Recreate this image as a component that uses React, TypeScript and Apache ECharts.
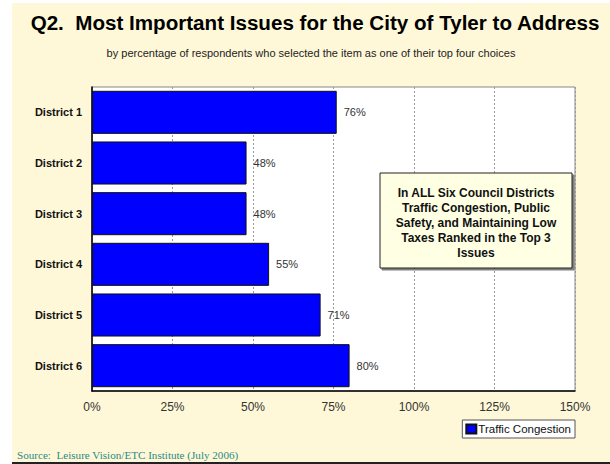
import React, { useEffect, useRef } from "react";
import * as echarts from "echarts";

const categories = ["District 1", "District 2", "District 3", "District 4", "District 5", "District 6"];
const trafficCongestion = [76, 48, 48, 55, 71, 80];
const xTicks = { min: 0, max: 150, interval: 25 };
const titleText = "Q2.  Most Important Issues for the City of Tyler to Address";
const subtitleText = "by percentage of respondents who selected the item as one of their top four choices";
const noteLines = [
  "In ALL Six Council Districts",
  "Traffic Congestion, Public",
  "Safety, and Maintaining Low",
  "Taxes Ranked in the Top 3",
  "Issues",
];
const sourceText = "Source:  Leisure Vision/ETC Institute (July 2006)";

export default function App() {
  const ref = useRef<HTMLDivElement>(null);
  useEffect(() => {
    if (!ref.current) return;
    const chart = echarts.init(ref.current, null, { renderer: "svg" });
    chart.setOption({
      animation: false,
      backgroundColor: "#ffffff",
      textStyle: { fontFamily: "Liberation Sans, Arial, sans-serif" },
      graphic: [
        {
          type: "rect",
          z: -10,
          silent: true,
          shape: { x: 12, y: 3, width: 598, height: 460 },
          style: { fill: "#fef8d8" },
        },
        {
          type: "line",
          shape: { x1: 12, y1: 463, x2: 610, y2: 463 },
          style: { stroke: "#222", lineWidth: 2 },
        },
        {
          type: "text",
          x: 315,
          y: 23,
          scaleX: 1.03,
          style: {
            text: titleText,
            fontSize: 20,
            fontWeight: "bold",
            fill: "#000",
            align: "center",
            verticalAlign: "middle",
            fontFamily: "Liberation Sans, Arial, sans-serif",
          },
        },
        {
          type: "text",
          x: 311,
          y: 53,
          scaleX: 1.05,
          style: {
            text: subtitleText,
            fontSize: 10.5,
            fill: "#222",
            align: "center",
            verticalAlign: "middle",
            fontFamily: "Liberation Sans, Arial, sans-serif",
          },
        },
        {
          type: "rect",
          z: 100,
          shape: { x: 380, y: 173, width: 192, height: 95 },
          style: {
            fill: "#ffffe4",
            stroke: "#222",
            lineWidth: 1,
            shadowColor: "rgba(0,0,0,0.5)",
            shadowOffsetX: 2,
            shadowOffsetY: 2,
            shadowBlur: 1,
          },
        },
        {
          type: "text",
          z: 101,
          x: 476,
          y: 223,
          style: {
            text: noteLines.join("\n"),
            fontSize: 12,
            lineHeight: 15,
            fontWeight: "bold",
            fill: "#111",
            align: "center",
            verticalAlign: "middle",
            fontFamily: "Liberation Sans, Arial, sans-serif",
          },
        },
        {
          type: "text",
          x: 17,
          y: 455,
          scaleX: 1.06,
          style: {
            text: sourceText,
            fontSize: 10.5,
            fill: "#2a8a84",
            align: "left",
            verticalAlign: "middle",
            fontFamily: "Liberation Serif, Times New Roman, serif",
          },
        },
      ],
      legend: {
        right: 35,
        top: 420,
        orient: "horizontal",
        backgroundColor: "#ffffff",
        borderColor: "#555",
        borderWidth: 1,
        padding: [3, 4, 3, 3],
        itemWidth: 10,
        itemHeight: 9,
        itemGap: 2,
        icon: "rect",
        textStyle: { fontSize: 11.5, color: "#111", padding: [0, 0, 0, -3] },
        data: ["Traffic Congestion"],
      },
      grid: { left: 92, right: 35, top: 87, bottom: 73, show: true, borderColor: "#888", borderWidth: 1, backgroundColor: "#ffffff" },
      xAxis: {
        type: "value",
        min: xTicks.min,
        max: xTicks.max,
        interval: xTicks.interval,
        axisLine: { show: true, lineStyle: { color: "#000", width: 1.5 } },
        axisTick: { show: false },
        axisLabel: { formatter: "{value}%", fontSize: 12, color: "#333", margin: 10 },
        splitLine: { show: true, lineStyle: { color: "#999", type: [2, 2], width: 1 } },
      },
      yAxis: {
        type: "category",
        inverse: true,
        data: categories,
        axisLine: { show: true, lineStyle: { color: "#000", width: 1.5 } },
        axisTick: { show: false },
        axisLabel: { fontSize: 11, fontWeight: "bold", color: "#111", margin: 10 },
      },
      series: [
        {
          name: "Traffic Congestion",
          type: "bar",
          data: trafficCongestion,
          barCategoryGap: "15%",
          itemStyle: { color: "#0000ff", borderColor: "#111", borderWidth: 1 },
          label: {
            show: true,
            position: "right",
            distance: 7,
            formatter: "{c}%",
            fontSize: 11,
            color: "#333",
          },
        },
      ],
    });
    return () => chart.dispose();
  }, []);
  return (
    <div style={{ position: "fixed", left: 0, top: 0, width: 610, height: 464 }}>
      <div ref={ref} style={{ width: 610, height: 464 }} />
    </div>
  );
}
